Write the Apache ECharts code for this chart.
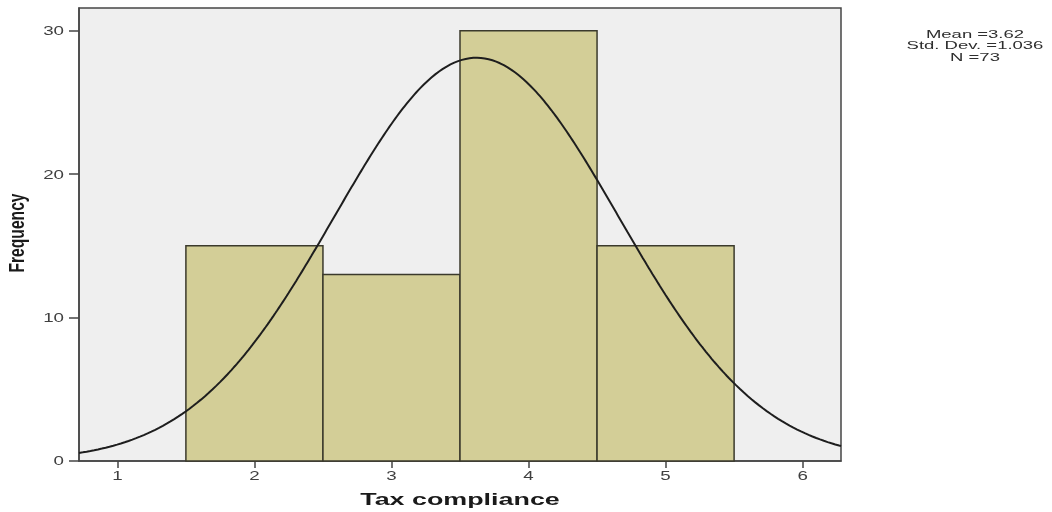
<!DOCTYPE html>
<html>
<head>
<meta charset="utf-8">
<title>Tax compliance histogram</title>
<script src="https://cdn.jsdelivr.net/npm/echarts@6/dist/echarts.min.js"></script>
<style>
  html, body { margin: 0; padding: 0; background: #ffffff; }
  #chart { width: 1052px; height: 512px; }
</style>
</head>
<body>
<div id="chart"></div>
<script>
// Histogram bins (lower / upper edges) and their counts
const binStarts = [1.5, 2.5, 3.5, 4.5];
const binEnds = [2.5, 3.5, 4.5, 5.5];
const frequencies = [15, 13, 30, 15];

// Summary statistics shown beside the plot
const mean = 3.62;
const stdDev = 1.036;
const sampleSize = 73;

// Axis ticks and titles
const xTicks = [1, 2, 3, 4, 5, 6];
const yTicks = [0, 10, 20, 30];
const xTitle = 'Tax compliance';
const yTitle = 'Frequency';

const xMin = 0.72, xMax = 6.28;
const yMax = 31.58;

// Fitted normal curve scaled to the histogram (N * bin width * density)
const binWidth = 1;
const curve = [];
for (let i = 0; i <= 400; i++) {
  const x = xMin + (xMax - xMin) * i / 400;
  const z = (x - mean) / stdDev;
  const y = sampleSize * binWidth * Math.exp(-0.5 * z * z) / (stdDev * Math.sqrt(2 * Math.PI));
  curve.push([x, y]);
}

const bars = binStarts.map((s, i) => [s, binEnds[i], frequencies[i]]);

const chart = echarts.init(document.getElementById('chart'));
const axisColor = '#454545';
const font = 'Liberation Sans, Arial, sans-serif';
const wide = 1.5; // horizontal stretch applied to the text

chart.setOption({
  animation: false,
  grid: {
    left: 79, right: 211, top: 8, bottom: 51,
    show: true, backgroundColor: '#efefef', borderColor: axisColor, borderWidth: 1.5
  },
  xAxis: {
    type: 'value', min: xMin, max: xMax,
    splitLine: { show: false },
    axisLine: { show: true, lineStyle: { color: axisColor, width: 1.5 } },
    axisTick: { show: true, customValues: xTicks, length: 7, lineStyle: { color: axisColor, width: 1.5 } },
    axisLabel: { show: false }
  },
  yAxis: {
    type: 'value', min: 0, max: yMax,
    splitLine: { show: false },
    axisLine: { show: true, lineStyle: { color: axisColor, width: 1.5 } },
    axisTick: { show: true, customValues: yTicks, length: 10, lineStyle: { color: axisColor, width: 1.5 } },
    axisLabel: { show: false }
  },
  series: [{
    type: 'custom',
    data: bars,
    renderItem: function (params, api) {
      const p0 = api.coord([api.value(0), api.value(2)]);
      const p1 = api.coord([api.value(1), 0]);
      return {
        type: 'rect',
        shape: { x: p0[0], y: p0[1], width: p1[0] - p0[0], height: p1[1] - p0[1] },
        style: { fill: '#d3ce97', stroke: '#3b3a2c', lineWidth: 1.5 }
      };
    },
    z: 2
  }, {
    type: 'line',
    data: curve,
    showSymbol: false,
    smooth: false,
    lineStyle: { color: '#1e1e1e', width: 2 },
    z: 3
  }]
});

// Tick labels and titles, placed through the axis scales and widened
const texts = [];
xTicks.forEach(v => {
  const p = chart.convertToPixel({ gridIndex: 0 }, [v, 0]);
  texts.push({
    type: 'text', x: p[0], y: p[1] + 16, scaleX: wide,
    style: { text: String(v), align: 'center', verticalAlign: 'middle', fill: '#404040', fontSize: 12.5, fontFamily: font }
  });
});
yTicks.forEach(v => {
  const p = chart.convertToPixel({ gridIndex: 0 }, [xMin, v]);
  texts.push({
    type: 'text', x: p[0] - 15, y: p[1] + 1, scaleX: wide,
    style: { text: String(v), align: 'right', verticalAlign: 'middle', fill: '#404040', fontSize: 12.5, fontFamily: font }
  });
});
const c0 = chart.convertToPixel({ gridIndex: 0 }, [xMin, 0]);
const c1 = chart.convertToPixel({ gridIndex: 0 }, [xMax, yMax]);
texts.push({
  type: 'text', x: (c0[0] + c1[0]) / 2, y: 500, scaleX: 1.58,
  style: { text: xTitle, align: 'center', verticalAlign: 'middle', fill: '#1a1a1a', fontSize: 17, fontWeight: 'bold', fontFamily: font }
});
texts.push({
  type: 'text', x: 18, y: 233, rotation: Math.PI / 2, scaleX: 0.92, scaleY: 1.35,
  style: { text: yTitle, align: 'center', verticalAlign: 'middle', fill: '#1a1a1a', fontSize: 17, fontWeight: 'bold', fontFamily: font }
});
texts.push({
  type: 'text', x: 975, y: 29, scaleX: 1.68,
  style: {
    text: 'Mean =' + mean.toFixed(2) + '\nStd. Dev. =' + stdDev.toFixed(3) + '\nN =' + sampleSize,
    align: 'center', verticalAlign: 'top',
    fill: '#2e2e2e', fontSize: 11, lineHeight: 11.5, fontFamily: font
  }
});
chart.setOption({ graphic: texts });
</script>
</body>
</html>
